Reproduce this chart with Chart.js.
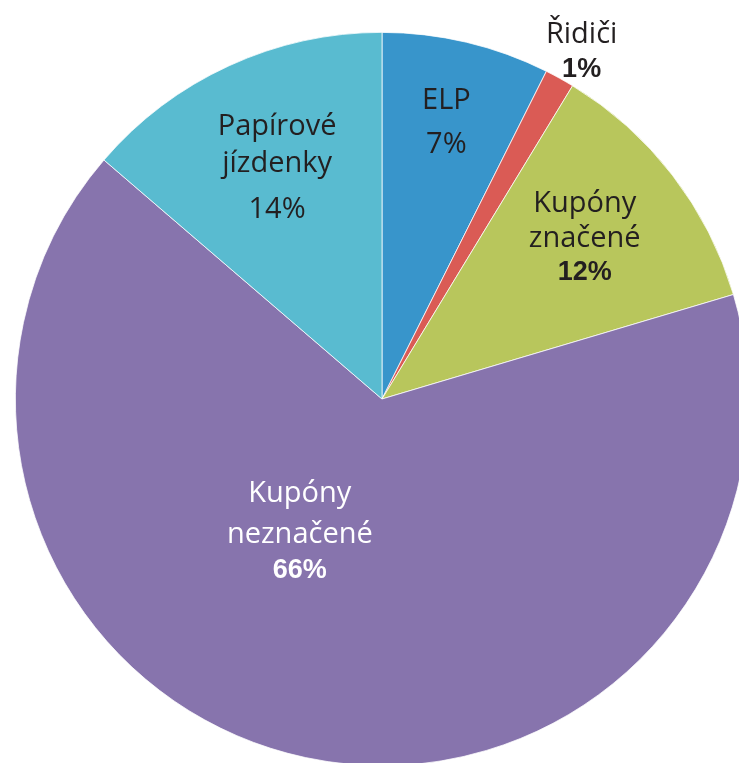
<!DOCTYPE html>
<html lang="cs">
<head>
    <meta charset="UTF-8">
    <title>Kupóny a jízdenky</title>
    <script src="https://cdn.jsdelivr.net/npm/chart.js"></script>
    <style>
        html, body { margin: 0; padding: 0; overflow: hidden; background: #fff; width: 739px; height: 763px; }
        #wrap { position: absolute; left: 0; top: 0; width: 764px; height: 798px; }
    </style>
</head>
<body>
    <div id="wrap"><canvas id="pieChart" width="764" height="798"></canvas></div>

    <script>
        // data (share in %)
        const categories = ['ELP', 'Řidiči', 'Kupóny značené', 'Kupóny neznačené', 'Papírové jízdenky'];
        const shares = [7.4, 1.3, 11.7, 65.9, 13.7];
        const sliceColors = ['#3895CB', '#DA5B55', '#B8C65C', '#8774AD', '#59BBD0'];

        // label text lines (the % line is added from the data)
        const labelLines = [['ELP'], ['Řidiči'], ['Kupóny', 'značené'], ['Kupóny', 'neznačené'], ['Papírové', 'jízdenky']];
        const pctBold = [false, true, true, true, false];
        const labelColor = ['#231F20', '#231F20', '#231F20', '#ffffff', '#231F20'];
        // where the first baseline sits: fraction along slice, fraction of radius
        const labelPos = [[0.47, 0.81], [0.56, 1.114], [0.38, 0.752], [0.612, 0.359], [0.56, 0.774]];
        const lineGaps = [[44], [34], [35, 33], [41, 35], [37, 46]];

        const regFont = '29px "Open Sans"';
        const boldFont = 'bold 27px "Liberation Sans", Arial';

        const sliceLabels = {
            id: 'sliceLabels',
            afterDatasetsDraw(chart) {
                const ctx = chart.ctx;
                const meta = chart.getDatasetMeta(0);
                ctx.save();
                ctx.textAlign = 'center';
                ctx.textBaseline = 'alphabetic';
                meta.data.forEach((arc, i) => {
                    const p = arc.getProps(['x', 'y', 'startAngle', 'endAngle', 'outerRadius'], true);
                    const a = p.startAngle + labelPos[i][0] * (p.endAngle - p.startAngle);
                    const r = labelPos[i][1] * p.outerRadius;
                    const px = p.x + r * Math.cos(a);
                    let py = p.y + r * Math.sin(a);
                    const lines = labelLines[i].map(t => ({ t, bold: false }));
                    lines.push({ t: Math.round(shares[i]) + '%', bold: pctBold[i] });
                    ctx.fillStyle = labelColor[i];
                    lines.forEach((ln, k) => {
                        if (k > 0) py += lineGaps[i][k - 1];
                        ctx.font = ln.bold ? boldFont : regFont;
                        ctx.fillText(ln.t, px, py);
                    });
                });
                ctx.restore();
            }
        };

        const ctx = document.getElementById('pieChart').getContext('2d');
        new Chart(ctx, {
            type: 'pie',
            data: {
                labels: categories,
                datasets: [{
                    data: shares,
                    backgroundColor: sliceColors,
                    borderColor: '#ffffff',
                    borderWidth: 0.75
                }]
            },
            options: {
                responsive: false,
                animation: false,
                layout: { padding: { left: 15, right: 15, top: 32, bottom: 32 } },
                plugins: {
                    legend: { display: false },
                    tooltip: { enabled: false }
                }
            },
            plugins: [sliceLabels]
        });
    </script>
</body>
</html>
